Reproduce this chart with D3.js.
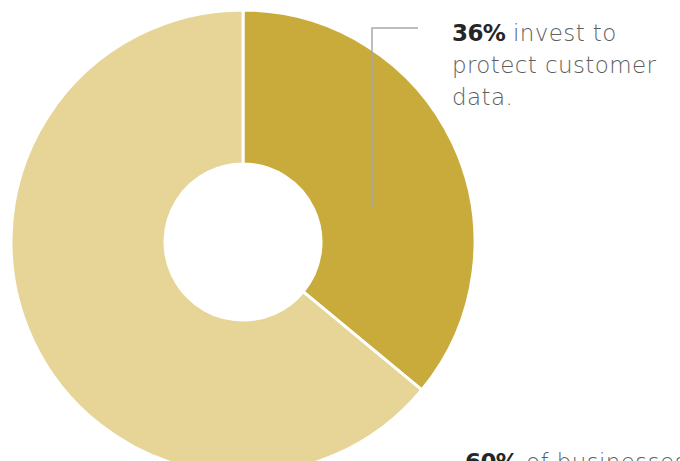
<!DOCTYPE html>
<html lang="en">
<head>
  <meta charset="UTF-8">
  <title>Invest to protect customer data</title>
  <style>
    body { margin: 0; background: #fff; overflow: hidden; }
    text { font-family: "DejaVu Sans", Lato, sans-serif; }
  </style>
</head>
<body>
<script src="https://d3js.org/d3.v7.min.js"></script>
<script>
// slice data (percent of businesses)
const categories = ["Protect customer data", "Other"];
const values = [36, 64];
const colors = ["#c9ab3b", "#e6d597"];

// callout text
const calloutTop = [["36%", " invest to"], ["", "protect customer"], ["", "data."]];
const calloutBottom = [["60%", " of businesses"]];

const width = 680, height = 461;
const cx = 243, cy = 242;
const outerR = 232, innerR = 78;

const svg = d3.select("body").append("svg")
  .attr("width", width)
  .attr("height", height);

const pie = d3.pie().sort(null).value(d => d)(values);
const arc = d3.arc().innerRadius(innerR).outerRadius(outerR);

const g = svg.append("g").attr("transform", `translate(${cx},${cy})`);

g.selectAll("path")
  .data(pie)
  .enter().append("path")
    .attr("d", arc)
    .attr("fill", (d, i) => colors[i])
    .attr("stroke", "#fff")
    .attr("stroke-width", 3)
    .attr("stroke-linejoin", "round");

// leader line
svg.append("path")
  .attr("d", "M372,208V28H418")
  .attr("fill", "none")
  .attr("stroke", "#a8a8a8")
  .attr("stroke-width", 1.5);

// callout labels
function callout(lines, x, y0, lh) {
  const t = svg.append("text")
    .attr("x", x)
    .attr("y", y0)
    .attr("font-size", 23)
    .attr("letter-spacing", 0.4)
    .attr("fill", "#5e5e5e");
  lines.forEach((ln, i) => {
    const first = t.append("tspan").attr("x", x).attr("y", y0 + i * lh);
    if (ln[0]) {
      first.attr("font-weight", 700).attr("fill", "#262626").attr("letter-spacing", -0.6).text(ln[0]);
      t.append("tspan").attr("font-weight", 200).attr("letter-spacing", 0.4).text(ln[1]);
    } else {
      first.attr("font-weight", 200).text(ln[1]);
    }
  });
}

callout(calloutTop, 452, 41, 32);
callout(calloutBottom, 465, 470, 32);
</script>
</body>
</html>
